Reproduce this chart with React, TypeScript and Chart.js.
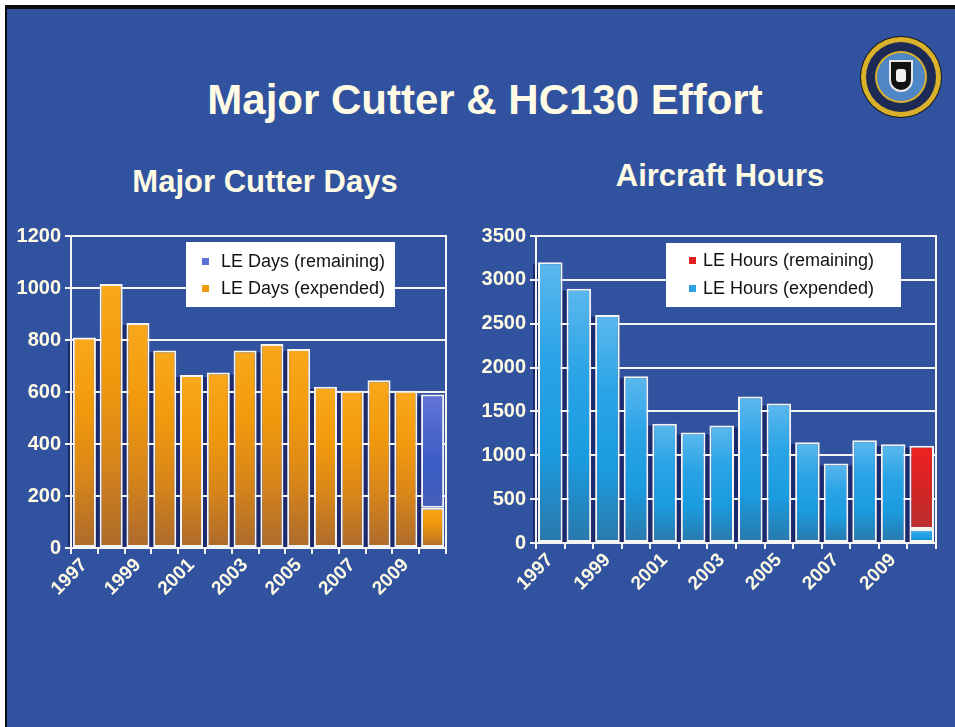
import React, { useEffect, useRef } from "react";
import { Chart, registerables } from "chart.js";

Chart.register(...registerables);

const YEARS = ["1997", "1998", "1999", "2000", "2001", "2002", "2003", "2004", "2005", "2006", "2007", "2008", "2009", "2010"];

const DAYS_EXPENDED = [810, 1015, 865, 760, 665, 675, 760, 785, 765, 620, 605, 645, 605, 155];
const DAYS_REMAINING = [null, null, null, null, null, null, null, null, null, null, null, null, null, 435];
const DAYS_AXIS = { max: 1200, step: 200 };

const HOURS_EXPENDED = [3200, 2900, 2600, 1900, 1360, 1260, 1340, 1670, 1590, 1150, 905, 1170, 1125, 160];
const HOURS_REMAINING = [null, null, null, null, null, null, null, null, null, null, null, null, null, 950];
const HOURS_AXIS = { max: 3500, step: 500 };

const FONT = "'Liberation Sans', Arial, Helvetica, sans-serif";
const WHITE = "#f4f4f4";
const CREAM = "#fffbe4";
const BG = "#31529f";
const SHADOW = "#1b2a6c";

function barGradient(stops: string[]) {
  return (ctx: any) => {
    const chart = ctx.chart;
    if (!chart.chartArea || ctx.type !== "data") return stops[1];
    const v = ctx.raw;
    if (v == null) return stops[1];
    let base = 0;
    for (let d = 0; d < ctx.datasetIndex; d++) {
      const pv = chart.data.datasets[d].data[ctx.dataIndex];
      if (pv != null) base += pv;
    }
    const y = chart.scales.y;
    const top = y.getPixelForValue(base + v);
    const bottom = y.getPixelForValue(base);
    if (!isFinite(top) || !isFinite(bottom) || top === bottom) return stops[1];
    const g = chart.ctx.createLinearGradient(0, top, 0, bottom);
    stops.forEach((c, i) => g.addColorStop(i / (stops.length - 1), c));
    return g;
  };
}

// dark shading in the gaps between neighbouring bars (and left of the first bar)
const shadowPlugin = {
  id: "barShadow",
  beforeDraw(chart: any) {
    const ctx = chart.ctx;
    const n = chart.data.labels.length;
    const cols: { left: number; right: number; top: number; bottom: number }[] = [];
    for (let i = 0; i < n; i++) {
      let top = Infinity;
      let bottom = -Infinity;
      let left = NaN;
      let right = NaN;
      chart.data.datasets.forEach((_: any, d: number) => {
        const el = chart.getDatasetMeta(d).data[i];
        if (!el) return;
        const p = el.getProps(["x", "y", "base", "width"], true);
        if (![p.x, p.y, p.base, p.width].every((v: number) => isFinite(v))) return;
        top = Math.min(top, p.y, p.base);
        bottom = Math.max(bottom, p.y, p.base);
        left = p.x - p.width / 2;
        right = p.x + p.width / 2;
      });
      cols.push({ left, right, top, bottom });
    }
    ctx.save();
    ctx.fillStyle = SHADOW;
    cols.forEach((c, i) => {
      if (!isFinite(c.top)) return;
      if (i === 0) {
        ctx.fillRect(c.left - 5, c.top + 2, 5, c.bottom - c.top - 2);
        return;
      }
      const prev = cols[i - 1];
      if (!isFinite(prev.top)) return;
      const t = Math.max(c.top, prev.top);
      ctx.fillRect(prev.right - 1, t + 2, c.left - prev.right + 2, c.bottom - t - 2);
    });
    ctx.restore();
  },
  beforeDatasetsDraw(chart: any) {
    const { top, bottom, right } = chart.chartArea;
    const ctx = chart.ctx;
    ctx.save();
    ctx.strokeStyle = WHITE;
    ctx.lineWidth = 2;
    ctx.beginPath();
    ctx.moveTo(right, top - 1);
    ctx.lineTo(right, bottom + 6);
    ctx.stroke();
    ctx.restore();
  },
};

const boxLegendPlugin = {
  id: "boxLegend",
  afterDraw(chart: any, _args: any, opts: any) {
    const ctx = chart.ctx;
    const { right, top } = chart.chartArea;
    const x = right - opts.rightInset - opts.width;
    const y = top + opts.topInset;
    ctx.save();
    ctx.fillStyle = "#ffffff";
    ctx.fillRect(x, y, opts.width, opts.height);
    ctx.font = `18px ${FONT}`;
    ctx.textBaseline = "middle";
    const items = chart.data.datasets.slice().reverse();
    items.forEach((ds: any, i: number) => {
      const cy = y + opts.firstRow + i * opts.rowGap;
      ctx.fillStyle = ds.legendColor;
      ctx.fillRect(x + opts.markerX, cy - 4, 7, 7);
      ctx.fillStyle = "#111111";
      ctx.fillText(ds.label, x + opts.textX, cy);
    });
    ctx.restore();
  },
};

type PanelProps = {
  left: number;
  width: number;
  yAxisWidth: number;
  padTop: number;
  padRight: number;
  xAxisHeight: number;
  expended: (number | null)[];
  remaining: (number | null)[];
  expLabel: string;
  remLabel: string;
  expStops: string[];
  remStops: string[];
  expLegend: string;
  remLegend: string;
  axis: { max: number; step: number };
  legend: any;
};

function BarPanel(p: PanelProps) {
  const ref = useRef<HTMLCanvasElement>(null);
  useEffect(() => {
    if (!ref.current) return;
    const chart = new Chart(ref.current, {
      type: "bar",
      data: {
        labels: YEARS,
        datasets: [
          {
            label: p.expLabel,
            data: p.expended,
            backgroundColor: barGradient(p.expStops),
            borderColor: WHITE,
            borderWidth: 2,
            borderSkipped: false,
            barPercentage: 0.86,
            categoryPercentage: 1,
            legendColor: p.expLegend,
          } as any,
          {
            label: p.remLabel,
            data: p.remaining,
            backgroundColor: barGradient(p.remStops),
            borderColor: WHITE,
            borderWidth: 2,
            borderSkipped: false,
            barPercentage: 0.86,
            categoryPercentage: 1,
            legendColor: p.remLegend,
          } as any,
        ],
      },
      options: {
        responsive: false,
        animation: false,
        maintainAspectRatio: false,
        layout: { padding: { left: 0, top: p.padTop, right: p.padRight, bottom: 0 } },
        plugins: {
          legend: { display: false },
          tooltip: { enabled: false },
          boxLegend: p.legend,
        } as any,
        scales: {
          x: {
            stacked: true,
            afterFit: (s: any) => {
              s.height = p.xAxisHeight;
            },
            grid: {
              drawOnChartArea: false,
              drawTicks: true,
              tickLength: 6,
              color: WHITE,
              lineWidth: 2,
              offset: true,
            },
            border: { color: WHITE, width: 2 },
            ticks: {
              color: CREAM,
              autoSkip: false,
              minRotation: 45,
              maxRotation: 45,
              padding: 0,
              font: { family: FONT, size: 19, weight: "bold" },
              callback: (_v: any, i: number) => (i % 2 === 0 ? YEARS[i] : ""),
            },
          },
          y: {
            stacked: true,
            min: 0,
            max: p.axis.max,
            afterFit: (s: any) => {
              s.width = p.yAxisWidth;
            },
            grid: {
              color: WHITE,
              lineWidth: 2,
              drawTicks: true,
              tickLength: 6,
            },
            border: { color: WHITE, width: 2 },
            ticks: {
              stepSize: p.axis.step,
              color: CREAM,
              padding: 4,
              font: { family: FONT, size: 20, weight: "bold" },
              callback: (v: any) => String(v),
            },
          },
        },
      },
      plugins: [shadowPlugin, boxLegendPlugin],
    });
    return () => chart.destroy();
  }, []);
  return (
    <canvas
      ref={ref}
      width={p.width}
      height={400}
      style={{ position: "absolute", left: p.left, top: 220, width: p.width, height: 400 }}
    />
  );
}

function Seal() {
  return (
    <div
      style={{
        position: "absolute",
        left: 861,
        top: 37,
        width: 80,
        height: 80,
        borderRadius: "50%",
        background: "#d9b12a",
        boxShadow: "0 0 0 1px #1a1a1a",
      }}
    >
      <div
        style={{
          position: "absolute",
          left: 5,
          top: 5,
          width: 70,
          height: 70,
          borderRadius: "50%",
          background: "#1c2a55",
        }}
      >
        <div
          style={{
            position: "absolute",
            left: 11,
            top: 11,
            width: 48,
            height: 48,
            borderRadius: "50%",
            background: "#4f86c6",
            boxShadow: "0 0 0 2px #d9b12a",
          }}
        >
          <div
            style={{
              position: "absolute",
              left: 14,
              top: 9,
              width: 20,
              height: 28,
              background: "#111",
              borderRadius: "0 0 10px 10px",
              boxShadow: "0 0 0 2px #e8e8e8",
            }}
          >
            <div
              style={{
                position: "absolute",
                left: 5,
                top: 7,
                width: 10,
                height: 13,
                background: "#f0f0f0",
                borderRadius: 3,
              }}
            />
          </div>
        </div>
      </div>
    </div>
  );
}

export default function App() {
  return (
    <div
      style={{
        position: "fixed",
        left: 0,
        top: 0,
        width: 955,
        height: 727,
        background: "#ffffff",
        overflow: "hidden",
        fontFamily: FONT,
      }}
    >
      <div style={{ position: "absolute", left: 5, top: 5, right: 0, bottom: 0, background: "#0d0d0d" }} />
      <div style={{ position: "absolute", left: 7, top: 9, right: 0, bottom: 0, background: BG }} />
      <div
        style={{
          position: "absolute",
          left: 185,
          top: 79,
          width: 600,
          textAlign: "center",
          fontSize: 42,
          lineHeight: "42px",
          fontWeight: "bold",
          color: CREAM,
          whiteSpace: "nowrap",
        }}
      >
        Major Cutter &amp; HC130 Effort
      </div>
      <div
        style={{
          position: "absolute",
          left: 115,
          top: 166,
          width: 300,
          textAlign: "center",
          fontSize: 31,
          lineHeight: "31px",
          fontWeight: "bold",
          color: CREAM,
          whiteSpace: "nowrap",
        }}
      >
        Major Cutter Days
      </div>
      <div
        style={{
          position: "absolute",
          left: 570,
          top: 160,
          width: 300,
          textAlign: "center",
          fontSize: 31,
          lineHeight: "31px",
          fontWeight: "bold",
          color: CREAM,
          whiteSpace: "nowrap",
        }}
      >
        Aircraft Hours
      </div>
      <Seal />
      <BarPanel
        left={0}
        width={460}
        yAxisWidth={71}
        padTop={12}
        padRight={14}
        xAxisHeight={72}
        expended={DAYS_EXPENDED}
        remaining={DAYS_REMAINING}
        expLabel="LE Days (expended)"
        remLabel="LE Days (remaining)"
        expStops={["#f9a81c", "#f29a0c", "#d8861a", "#ac6a2c"]}
        remStops={["#6476d8", "#4b66cc", "#3a5bc2", "#4660b8"]}
        expLegend="#f09a14"
        remLegend="#5a70d4"
        axis={DAYS_AXIS}
        legend={{ rightInset: 51, topInset: 6, width: 209, height: 65, firstRow: 20, rowGap: 27, markerX: 16, textX: 35 }}
      />
      <BarPanel
        left={470}
        width={485}
        yAxisWidth={66}
        padTop={14}
        padRight={19}
        xAxisHeight={77}
        expended={HOURS_EXPENDED}
        remaining={HOURS_REMAINING}
        expLabel="LE Hours (expended)"
        remLabel="LE Hours (remaining)"
        expStops={["#5cb8ee", "#2aa4e6", "#1a9ce0", "#2a78aa"]}
        remStops={["#ee2222", "#d42424", "#b83030"]}
        expLegend="#2ea2e2"
        remLegend="#e02020"
        axis={HOURS_AXIS}
        legend={{ rightInset: 35, topInset: 7, width: 235, height: 64, firstRow: 18, rowGap: 28, markerX: 23, textX: 37 }}
      />
    </div>
  );
}
